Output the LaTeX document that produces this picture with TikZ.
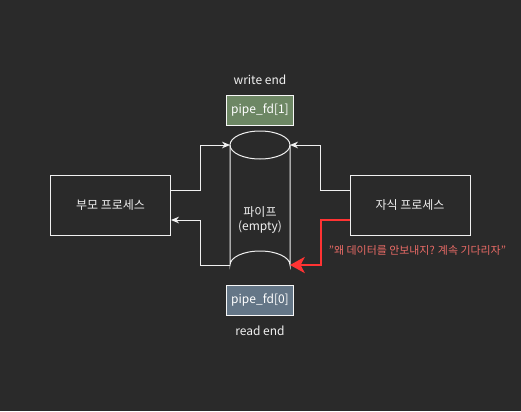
\documentclass[tikz,border=0pt]{standalone}
\usepackage{fontspec}
\setmainfont{Noto Sans CJK KR}
\usetikzlibrary{positioning,arrows.meta,calc}
\definecolor{bgdark}{HTML}{2A2A2A}
\definecolor{linegray}{HTML}{F0F0F0}
\definecolor{fdgreen}{HTML}{6D8764}
\definecolor{fdblue}{HTML}{647687}
\definecolor{warnred}{HTML}{FF3333}
\definecolor{warntext}{HTML}{EA6B66}

\begin{document}
\begin{tikzpicture}[x=0.75pt,y=-0.75pt,font=\fontsize{9}{11}\selectfont,line width=0.75pt,
    proc/.style={draw=linegray,fill=bgdark,text=linegray,minimum width=90pt,minimum height=45pt},
    fdbox/.style={draw=linegray!60,text=white,minimum width=45pt,minimum height=22.5pt},
    lbl/.style={text=linegray},
    flow/.style={draw=linegray,-{Stealth[length=6pt,width=5pt]}},
    warn/.style={draw=warnred,line width=2.2pt,-{Stealth[length=11pt,width=12pt,inset=3pt]}}]

    % background and page size
    \fill[bgdark] (0,0) rectangle (521,411);

    % processes
    \node[proc] (parent) at (110.5,205) {부모 프로세스};
    \node[proc] (child)  at (410,205)   {자식 프로세스};

    % the pipe
    \draw[linegray,fill=bgdark] (230,145) -- (230,265) arc[start angle=180,end angle=360,x radius=30,y radius=14]
          -- (290,145);
    \draw[linegray] (260,145) ellipse[x radius=30,y radius=14];
    \node[lbl,align=center] (pipe) at (260,220) {파이프\\(empty)};
    \coordinate (pipe_tl) at (230,145);
    \coordinate (pipe_tr) at (290,145);
    \coordinate (pipe_bl) at (230,265);
    \coordinate (pipe_br) at (290,265);

    % file descriptors
    \node[fdbox,fill=fdgreen] (fd1) at (260,110) {pipe\_fd[1]};
    \node[fdbox,fill=fdblue]  (fd0) at (260,300) {pipe\_fd[0]};
    \node[lbl] (wend) [above=4pt of fd1] {write end};
    \node[lbl] (rend) [below=4pt of fd0] {read end};

    % connectors
    \draw[flow] ($(parent.east)+(0,-15)$) -| (200,145) -- (pipe_tl);
    \draw[flow] (pipe_bl) -| (200,220) -- ($(parent.east)+(0,15)$);
    \draw[flow] ($(child.west)+(0,-15)$) -| (320,145) -- (pipe_tr);
    \draw[warn] ($(child.west)+(0,15)$) -| (321,265) -- (pipe_br);

    \node[text=warntext,anchor=west,font=\fontsize{8.2}{10}\selectfont] (wait) at (324,250) {"왜 데이터를 안보내지? 계속 기다리자"};
\end{tikzpicture}
\end{document}
